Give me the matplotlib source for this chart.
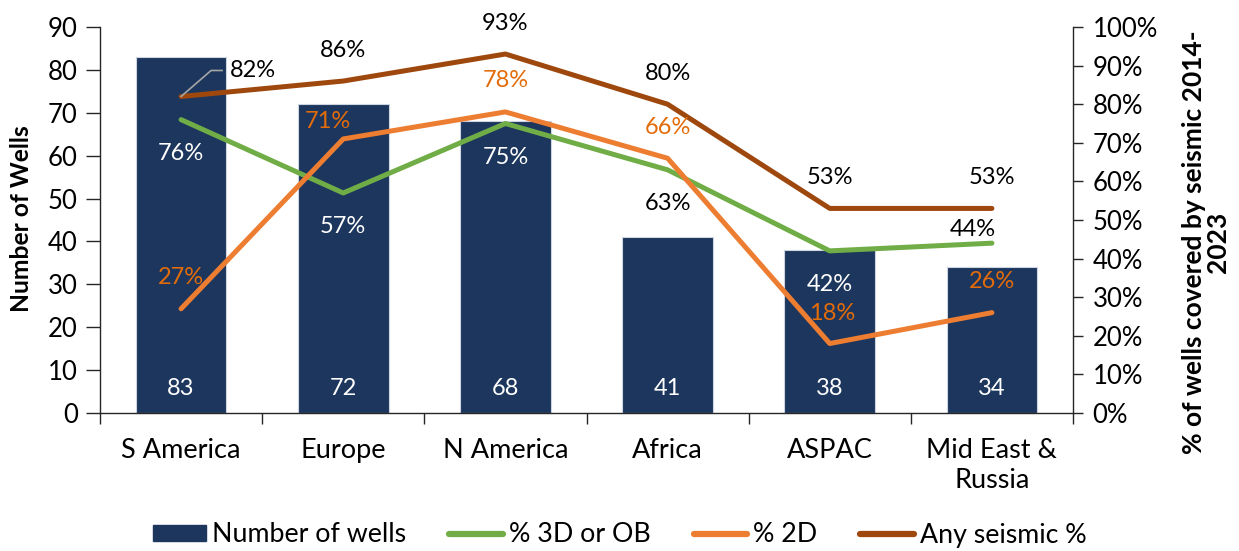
import matplotlib
matplotlib.use("Agg")
import matplotlib.pyplot as plt
from matplotlib.lines import Line2D
from matplotlib.patches import Patch
from matplotlib.ticker import FixedLocator, PercentFormatter
import numpy as np

# Data
regions = ["S America", "Europe", "N America", "Africa", "ASPAC", "Mid East &\nRussia"]
wells = [83, 72, 68, 41, 38, 34]
pct_3d_ob = [76, 57, 75, 63, 42, 44]
pct_2d = [27, 71, 78, 66, 18, 26]
pct_any = [82, 86, 93, 80, 53, 53]

# Styling
BAR_C = "#1D365D"
GREEN = "#70AD47"
ORANGE = "#ED7D31"
BROWN = "#9E480E"
ORANGE_TXT = "#E36C0A"
FONT = ["Lato", "DejaVu Sans"]

plt.rcParams["font.family"] = FONT

W, H = 1239, 551
fig = plt.figure(figsize=(W / 100, H / 100), dpi=100)
ax = fig.add_axes([100 / W, 1 - 413 / H, (1073 - 100) / W, (413 - 27) / H])
ax2 = ax.twinx()

x = np.arange(len(regions))

# Bars: number of wells
ax.bar(x, wells, width=0.56, color=BAR_C, edgecolor="#CDD5E0", linewidth=0.8, zorder=2)
ax.set_xlim(-0.5, len(regions) - 0.5)
ax.set_ylim(0, 90)
ax.set_yticks(range(0, 91, 10))

for xi, v in zip(x, wells):
    ax.annotate(f"{v}", xy=(xi, 0), xytext=(0, 24.5), textcoords="offset pixels",
                ha="center", va="center", color="white", fontsize=17, zorder=3)

# Lines: share of wells covered by seismic
lw = 3.6
line_kw = dict(lw=lw, solid_capstyle="round", solid_joinstyle="round")
ax2.plot(x, np.array(pct_3d_ob) / 100, color=GREEN, zorder=3, **line_kw)
ax2.plot(x, np.array(pct_2d) / 100, color=ORANGE, zorder=3, **line_kw)
ax2.plot(x, np.array(pct_any) / 100, color=BROWN, zorder=4, **line_kw)
ax2.set_ylim(0, 1)
ax2.set_yticks(np.arange(0, 1.01, 0.1))
ax2.yaxis.set_major_formatter(PercentFormatter(1.0, decimals=0))

# Label offsets in pixels (dx, dy) relative to each point
UP, DN = 31, -34
off_any = [None, (0, UP), (0, UP), (0, UP), (0, UP), (0, UP)]
off_3d = [(0, DN), (0, DN), (0, DN), (0, DN), (0, DN), (-19, 14)]
off_2d = [(0, UP), (-15, 17), (0, UP), (0, UP), (2, UP - 1), (0, UP)]
col_3d = ["white", "white", "white", "black", "white", "black"]

lbl_kw = dict(textcoords="offset pixels", ha="center", va="center", fontsize=17, zorder=6)

for i, v in enumerate(pct_any):
    if off_any[i] is None:
        continue
    ax2.annotate(f"{v}%", xy=(i, v / 100), xytext=off_any[i], color="black", **lbl_kw)
for i, v in enumerate(pct_3d_ob):
    ax2.annotate(f"{v}%", xy=(i, v / 100), xytext=off_3d[i], color=col_3d[i], **lbl_kw)
for i, v in enumerate(pct_2d):
    ax2.annotate(f"{v}%", xy=(i, v / 100), xytext=off_2d[i], color=ORANGE_TXT, **lbl_kw)

# First "Any seismic" label sits to the side with a leader line
ax2.annotate(f"{pct_any[0]}%", xy=(0, pct_any[0] / 100), xytext=(72, 26), color="black", **lbl_kw)
px, py = ax2.transData.transform((0, pct_any[0] / 100))
lead = Line2D([px, px + 30, px + 41], [py, py + 26, py + 26], color="#A6A6A6", lw=1.2,
              transform=None, zorder=5)
ax2.add_artist(lead)

# Axes appearance
for a in (ax, ax2):
    a.spines["top"].set_visible(False)
    for s in ("left", "right", "bottom"):
        a.spines[s].set_color("#262626")
        a.spines[s].set_linewidth(1.0)
ax.spines["right"].set_visible(False)
ax2.spines["left"].set_visible(False)
ax2.spines["bottom"].set_visible(False)

ax.tick_params(axis="y", direction="out", length=10, width=1, color="#262626",
               labelsize=18.5, pad=6)
ax2.tick_params(axis="y", direction="out", length=7, width=1, color="#262626",
                labelsize=18.5, pad=7)

# Category boundaries carry tick marks, names sit at the centers
ax.xaxis.set_major_locator(FixedLocator(np.arange(-0.5, len(regions), 1.0)))
ax.xaxis.set_minor_locator(FixedLocator(x))
ax.set_xticklabels([])
ax.set_xticklabels(regions, minor=True)
ax.tick_params(axis="x", which="major", direction="out", length=8, width=1, color="#262626")
ax.tick_params(axis="x", which="minor", length=0, labelsize=19.5, pad=18)
for t in ax.get_xticklabels(minor=True):
    t.set_linespacing(1.25)

fig.text(22 / W, 1 - 219 / H, "Number of Wells", rotation=90, ha="center", va="center",
         fontsize=17.7, fontweight="bold")
fig.text(1206 / W, 1 - 242 / H, "% of wells covered by seismic 2014-\n2023", rotation=90,
         ha="center", va="center", fontsize=19, fontweight="bold", linespacing=1.0,
         multialignment="center")

# Legend
handles = [
    Patch(facecolor=BAR_C, edgecolor=BAR_C),
    Line2D([0], [0], color=GREEN, lw=4.5, solid_capstyle="round"),
    Line2D([0], [0], color=ORANGE, lw=4.5, solid_capstyle="round"),
    Line2D([0], [0], color=BROWN, lw=4.5, solid_capstyle="round"),
]
labels = ["Number of wells", "% 3D or OB", "% 2D", "Any seismic %"]
fig.legend(handles, labels, loc="center", bbox_to_anchor=(0.5, 1 - 535 / H), ncol=4,
           frameon=False, fontsize=19.3, handlelength=2.0, handletextpad=0.22,
           columnspacing=1.6, handleheight=0.55, borderpad=0.2)

fig.savefig("out.png", dpi=100)
